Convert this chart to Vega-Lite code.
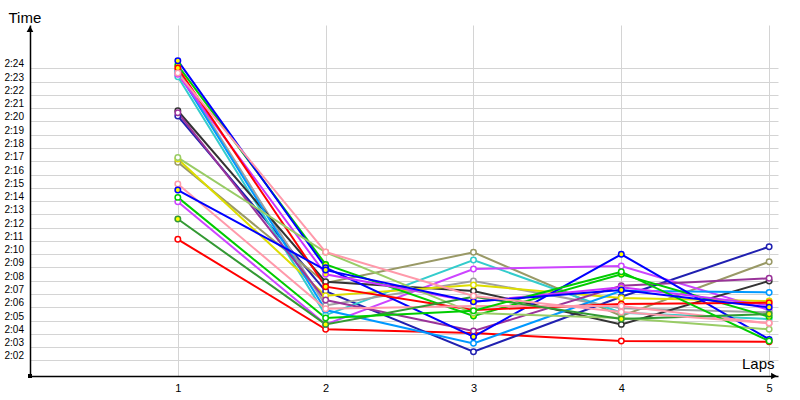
{
  "$schema": "https://vega.github.io/schema/vega-lite/v6.json",
  "width": 748,
  "height": 351,
  "autosize": {"type": "none"},
  "padding": {"left": 30, "top": 25, "right": 22, "bottom": 24},
  "background": "white",
  "config": {"view": {"stroke": null}, "font": "Liberation Sans"},
  "datasets": {
    "laps": [
      {"series": "S01", "lap": 1, "time": 131.12}, {"series": "S01", "lap": 2, "time": 124.34}, {"series": "S01", "lap": 3, "time": 124.06}, {"series": "S01", "lap": 4, "time": 123.45}, {"series": "S01", "lap": 5, "time": 123.40},
      {"series": "S02", "lap": 1, "time": 140.41}, {"series": "S02", "lap": 2, "time": 127.22}, {"series": "S02", "lap": 3, "time": 122.65}, {"series": "S02", "lap": 4, "time": 126.79}, {"series": "S02", "lap": 5, "time": 130.56},
      {"series": "S03", "lap": 1, "time": 136.92}, {"series": "S03", "lap": 2, "time": 127.83}, {"series": "S03", "lap": 3, "time": 130.14}, {"series": "S03", "lap": 4, "time": 125.34}, {"series": "S03", "lap": 5, "time": 129.43},
      {"series": "S04", "lap": 1, "time": 143.37}, {"series": "S04", "lap": 2, "time": 125.41}, {"series": "S04", "lap": 3, "time": 129.56}, {"series": "S04", "lap": 4, "time": 125.59}, {"series": "S04", "lap": 5, "time": 125.11},
      {"series": "S05", "lap": 1, "time": 133.95}, {"series": "S05", "lap": 2, "time": 124.71}, {"series": "S05", "lap": 3, "time": 128.88}, {"series": "S05", "lap": 4, "time": 129.11}, {"series": "S05", "lap": 5, "time": 125.79},
      {"series": "S06", "lap": 1, "time": 143.88}, {"series": "S06", "lap": 2, "time": 126.14}, {"series": "S06", "lap": 3, "time": 127.98}, {"series": "S06", "lap": 4, "time": 125.92}, {"series": "S06", "lap": 5, "time": 125.62},
      {"series": "S07", "lap": 1, "time": 140.81}, {"series": "S07", "lap": 2, "time": 127.92}, {"series": "S07", "lap": 3, "time": 127.22}, {"series": "S07", "lap": 4, "time": 124.71}, {"series": "S07", "lap": 5, "time": 127.98},
      {"series": "S08", "lap": 1, "time": 137.17}, {"series": "S08", "lap": 2, "time": 126.87}, {"series": "S08", "lap": 3, "time": 127.67}, {"series": "S08", "lap": 4, "time": 126.69}, {"series": "S08", "lap": 5, "time": 126.47},
      {"series": "S09", "lap": 1, "time": 143.73}, {"series": "S09", "lap": 2, "time": 125.79}, {"series": "S09", "lap": 3, "time": 123.28}, {"series": "S09", "lap": 4, "time": 127.24}, {"series": "S09", "lap": 5, "time": 127.12},
      {"series": "S10", "lap": 1, "time": 140.66}, {"series": "S10", "lap": 2, "time": 126.54}, {"series": "S10", "lap": 3, "time": 124.21}, {"series": "S10", "lap": 4, "time": 127.62}, {"series": "S10", "lap": 5, "time": 128.18},
      {"series": "S11", "lap": 1, "time": 144.23}, {"series": "S11", "lap": 2, "time": 129.23}, {"series": "S11", "lap": 3, "time": 125.34}, {"series": "S11", "lap": 4, "time": 128.48}, {"series": "S11", "lap": 5, "time": 125.29},
      {"series": "S12", "lap": 1, "time": 144.58}, {"series": "S12", "lap": 2, "time": 128.98}, {"series": "S12", "lap": 3, "time": 123.78}, {"series": "S12", "lap": 4, "time": 129.99}, {"series": "S12", "lap": 5, "time": 123.58},
      {"series": "S13", "lap": 1, "time": 143.55}, {"series": "S13", "lap": 2, "time": 128.48}, {"series": "S13", "lap": 3, "time": 126.42}, {"series": "S13", "lap": 4, "time": 127.50}, {"series": "S13", "lap": 5, "time": 126.17},
      {"series": "S14", "lap": 1, "time": 144.03}, {"series": "S14", "lap": 2, "time": 127.55}, {"series": "S14", "lap": 3, "time": 125.79}, {"series": "S14", "lap": 4, "time": 126.24}, {"series": "S14", "lap": 5, "time": 126.34},
      {"series": "S15", "lap": 1, "time": 137.28}, {"series": "S15", "lap": 2, "time": 130.14}, {"series": "S15", "lap": 3, "time": 125.56}, {"series": "S15", "lap": 4, "time": 125.19}, {"series": "S15", "lap": 5, "time": 124.34},
      {"series": "S16", "lap": 1, "time": 135.29}, {"series": "S16", "lap": 2, "time": 125.89}, {"series": "S16", "lap": 3, "time": 126.09}, {"series": "S16", "lap": 4, "time": 126.09}, {"series": "S16", "lap": 5, "time": 124.79},
      {"series": "S17", "lap": 1, "time": 132.65}, {"series": "S17", "lap": 2, "time": 124.71}, {"series": "S17", "lap": 3, "time": 126.79}, {"series": "S17", "lap": 4, "time": 125.11}, {"series": "S17", "lap": 5, "time": 125.49},
      {"series": "S18", "lap": 1, "time": 134.28}, {"series": "S18", "lap": 2, "time": 125.19}, {"series": "S18", "lap": 3, "time": 125.74}, {"series": "S18", "lap": 4, "time": 128.68}, {"series": "S18", "lap": 5, "time": 123.45},
      {"series": "S19", "lap": 1, "time": 134.83}, {"series": "S19", "lap": 2, "time": 128.80}, {"series": "S19", "lap": 3, "time": 126.42}, {"series": "S19", "lap": 4, "time": 127.30}, {"series": "S19", "lap": 5, "time": 126.00},
      {"series": "S20", "lap": 1, "time": 143.65}, {"series": "S20", "lap": 2, "time": 130.16}, {"series": "S20", "lap": 3, "time": 126.85}, {"series": "S20", "lap": 4, "time": 125.64}, {"series": "S20", "lap": 5, "time": 124.81}
    ],
    "arrows": [
      {"kind": "up", "lap": 0, "time": 147.27},
      {"kind": "right", "lap": 5.06, "time": 120.82},
      {"kind": "origin", "lap": 0, "time": 120.82}
    ]
  },
  "encoding": {
    "x": {
      "field": "lap", "type": "quantitative",
      "scale": {"domain": [0, 5.06], "nice": false, "zero": false},
      "axis": {
        "values": [1, 2, 3, 4, 5], "grid": true, "gridColor": "#d4d4d4", "gridWidth": 1,
        "ticks": false, "domainColor": "black", "domainWidth": 1.5,
        "labelFont": "Liberation Sans", "labelFontSize": 11, "labelColor": "black", "labelPadding": 6,
        "title": "Laps", "titleFont": "Liberation Sans", "titleFontSize": 15, "titleFontWeight": "normal",
        "titleColor": "black", "titleX": 744, "titleY": -8, "titleAlign": "right", "titleBaseline": "alphabetic"
      }
    },
    "y": {
      "field": "time", "type": "quantitative",
      "scale": {"domain": [120.82, 147.27], "nice": false, "zero": false},
      "axis": {
        "values": [122, 123, 124, 125, 126, 127, 128, 129, 130, 131, 132, 133, 134, 135, 136, 137, 138, 139, 140, 141, 142, 143, 144],
        "labelExpr": "'2:' + (datum.value < 130 ? '0' : '') + (datum.value - 120)",
        "grid": true, "gridColor": "#d4d4d4", "gridWidth": 1,
        "ticks": false, "domainColor": "black", "domainWidth": 1.5,
        "labelFont": "Liberation Sans", "labelFontSize": 10, "labelColor": "black",
        "labelAlign": "left", "labelPadding": 26, "labelBaseline": "alphabetic", "labelOffset": -1.5,
        "title": "Time", "titleFont": "Liberation Sans", "titleFontSize": 15, "titleFontWeight": "normal",
        "titleColor": "black", "titleAngle": 0, "titleX": -22, "titleY": -3, "titleAlign": "left", "titleBaseline": "alphabetic"
      }
    }
  },
  "layer": [
    {
      "data": {"name": "laps"},
      "mark": {"type": "line", "strokeWidth": 2},
      "encoding": {
        "stroke": {
          "field": "series", "type": "nominal", "legend": null,
          "scale": {
            "domain": ["S01", "S02", "S03", "S04", "S05", "S06", "S07", "S08", "S09", "S10", "S11", "S12", "S13", "S14", "S15", "S16", "S17", "S18", "S19", "S20"],
            "range": ["#ff0000", "#2020b0", "#999966", "#33cccc", "#cc44ff", "#a0a0a0", "#333333", "#dddd00", "#0099ff", "#993399", "#00cc00", "#0000ff", "#cc33ff", "#ff0000", "#99cc66", "#ff99aa", "#339933", "#00cc00", "#0000ff", "#ff99aa"]
          }
        }
      }
    },
    {
      "data": {"name": "laps"},
      "mark": {"type": "point", "shape": "circle", "size": 30, "strokeWidth": 1.5, "filled": true, "opacity": 1, "fillOpacity": 1, "strokeOpacity": 1},
      "encoding": {
        "stroke": {"field": "series", "type": "nominal", "legend": null},
        "fill": {
          "field": "series", "type": "nominal", "legend": null,
          "scale": {
            "domain": ["S01", "S02", "S03", "S04", "S05", "S06", "S07", "S08", "S09", "S10", "S11", "S12", "S13", "S14", "S15", "S16", "S17", "S18", "S19", "S20"],
            "range": ["#ffffff", "#ffffff", "#ffffff", "#ffffff", "#ffffff", "#ffffff", "#ffffff", "#ffffff", "#ffffff", "#ffffff", "#ffff00", "#ffff00", "#ffff00", "#ffff00", "#ffffff", "#ffffff", "#ffff00", "#ffffff", "#ffff00", "#ffffff"]
          }
        }
      }
    },
    {
      "data": {"name": "arrows"},
      "transform": [{"filter": "datum.kind == 'up'"}],
      "mark": {"type": "point", "shape": "triangle-up", "size": 45, "filled": true, "color": "black", "opacity": 1, "yOffset": 4, "clip": false}
    },
    {
      "data": {"name": "arrows"},
      "transform": [{"filter": "datum.kind == 'right'"}],
      "mark": {"type": "point", "shape": "triangle-right", "size": 45, "filled": true, "color": "black", "opacity": 1, "xOffset": -4, "clip": false}
    },
    {
      "data": {"name": "arrows"},
      "transform": [{"filter": "datum.kind == 'origin'"}],
      "mark": {"type": "point", "shape": "square", "size": 16, "filled": true, "color": "black", "opacity": 1, "clip": false}
    }
  ]
}
